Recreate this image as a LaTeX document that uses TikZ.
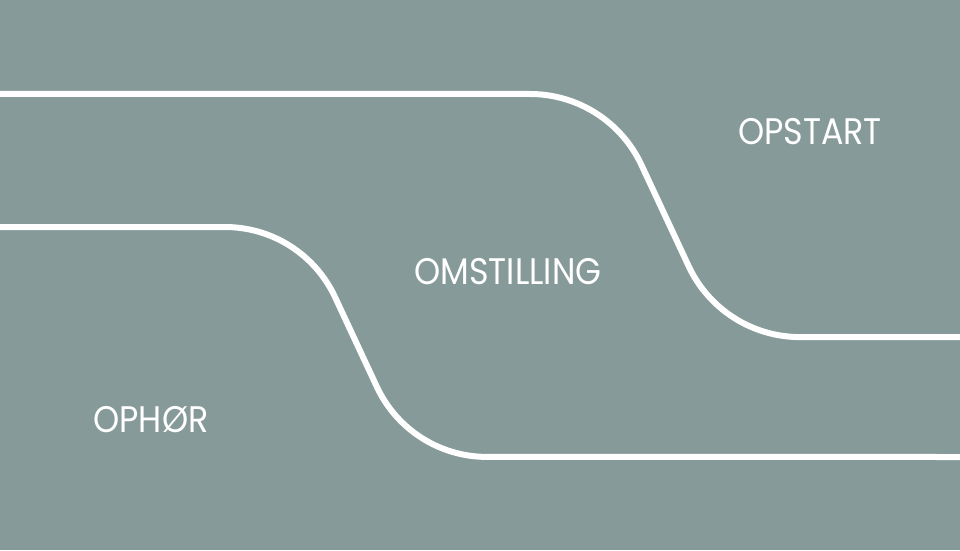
\documentclass[tikz,border=0pt]{standalone}
\usepackage{fontspec}
\setmainfont[FakeStretch=0.9]{Poppins}
\definecolor{bgcol}{HTML}{869B99}
\begin{document}
\begin{tikzpicture}[x=1pt,y=1pt,
  track/.style={draw=white,line width=6pt},
  label/.style={text=white,inner sep=0pt,anchor=base,font=\fontsize{37}{40}\selectfont}]
\fill[bgcol] (0,0) rectangle (960,550);
\useasboundingbox (0,0) rectangle (960,550);
% upper track
\draw[track] (-5,456) -- (530,456)
  arc[start angle=90,end angle=25,radius=123pt]
  -- ++(-65:111.5pt)
  arc[start angle=205,end angle=270,radius=123pt]
  -- (965,213);
% lower track
\draw[track] (-5,323) -- (225,323)
  arc[start angle=90,end angle=25,radius=121.4pt]
  -- ++(-65:99pt)
  arc[start angle=205,end angle=270,radius=121.4pt]
  -- (965,93);
\node[label] (opstart) at (810,406) {OPSTART};
\node[label] (omstilling) at (508,266) {OMSTILLING};
\node[label] (ophor) at (151,118) {OPHØR};
\end{tikzpicture}
\end{document}
